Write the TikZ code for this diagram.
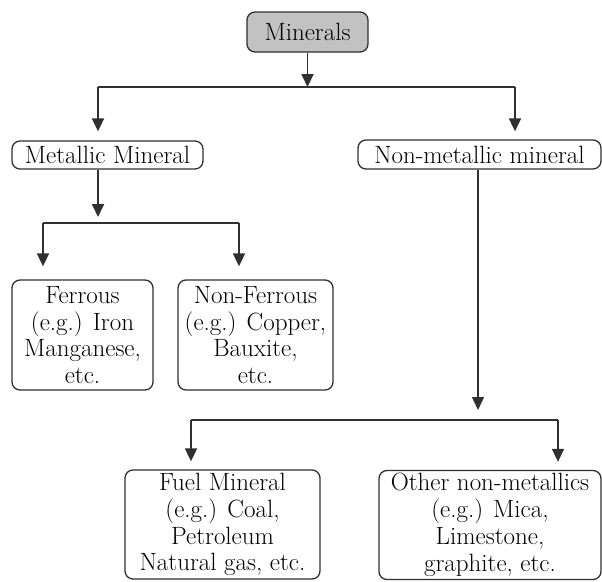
\documentclass[tikz,border=0pt]{standalone}
\usetikzlibrary{arrows.meta}
\definecolor{ink}{HTML}{303030}
\definecolor{boxgray}{HTML}{C2C2C2}
\begin{document}
\begin{tikzpicture}[x=1pt,y=-1pt,
  box/.style={draw=ink, line width=1.3pt, rounded corners=8pt, inner sep=0pt,
    align=center, font=\fontsize{25}{26.8}\selectfont, text=black},
  link/.style={draw=ink, line width=1.8pt},
  arr/.style={link, -{Triangle[length=13pt,width=12pt]}}]
\useasboundingbox (0,0) rectangle (602,581);

% nodes
\node[box, fill=boxgray, minimum width=121pt, minimum height=40pt] (min) at (307.5,32) {Minerals};
\node[box, minimum width=191pt, minimum height=28pt] (met) at (107.5,155) {Metallic Mineral};
\node[box, minimum width=243pt, minimum height=29pt] (non) at (479.5,154.5) {Non-metallic mineral};
\node[box, minimum width=141pt, minimum height=110pt] (fer) at (82.5,335) {Ferrous\\(e.g.) Iron\\Manganese,\\etc.};
\node[box, minimum width=155pt, minimum height=110pt] (nfer) at (255.5,335) {Non-Ferrous\\(e.g.) Copper,\\Bauxite,\\etc.};
\node[box, minimum width=195pt, minimum height=109pt] (fuel) at (222.5,524.5) {Fuel Mineral\\(e.g.) Coal,\\Petroleum\\Natural gas, etc.};
\node[box, minimum width=222pt, minimum height=109pt] (oth) at (490,525) {Other non-metallics\\(e.g.) Mica,\\Limestone,\\graphite, etc.};

% junction coordinates
\coordinate (jt) at (307.5,87);
\coordinate (jl) at (98,87);
\coordinate (jr) at (515,87);
\coordinate (mt) at (98,223);
\coordinate (ml) at (43,223);
\coordinate (mr) at (239,223);
\coordinate (nt) at (478,420);
\coordinate (nl) at (191,420);
\coordinate (nr) at (558,420);

% top level
\draw[arr] (min.south) -- (jt);
\draw[link] (jl) -- (jr);
\draw[arr, shorten >=9pt] (jl) -- (jl |- met.north);
\draw[arr, shorten >=8pt] (jr) -- (jr |- non.north);

% metallic branch
\draw[arr, shorten >=6pt] (mt |- met.south) -- (mt);
\draw[link] (ml) -- (mr);
\draw[arr, shorten >=13pt] (ml) -- (ml |- fer.north);
\draw[arr, shorten >=13pt] (mr) -- (mr |- nfer.north);

% non-metallic branch
\draw[arr, line width=1.4pt, shorten >=10pt] (nt |- non.south) -- (nt);
\draw[link] (nl) -- (nr);
\draw[arr, shorten >=8pt] (nl) -- (nl |- fuel.north);
\draw[arr, shorten >=8pt] (nr) -- (nr |- oth.north);
\end{tikzpicture}
\end{document}
